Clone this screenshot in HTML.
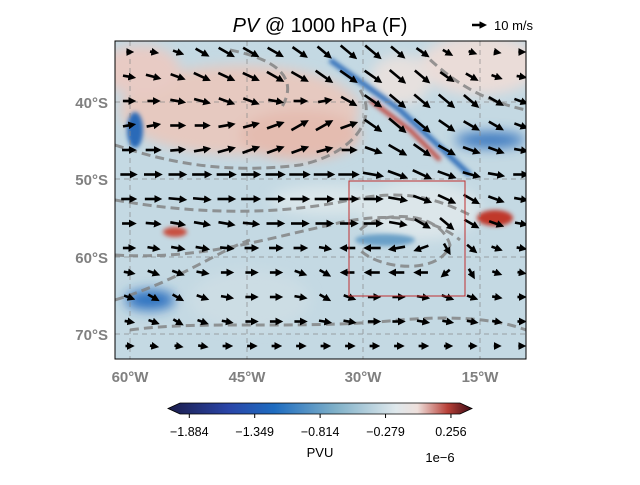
<!DOCTYPE html>
<html><head><meta charset="utf-8"><style>
body{margin:0;background:#fff;font-family:"Liberation Sans",sans-serif;}
</style></head><body>
<svg id="c" width="640" height="480" viewBox="0 0 640 480" xmlns="http://www.w3.org/2000/svg">
<defs>
<clipPath id="mc"><rect x="115" y="41" width="411" height="318"/></clipPath>
<filter id="bl"><feGaussianBlur stdDeviation="6"/></filter>
<filter id="bl2"><feGaussianBlur stdDeviation="2"/></filter>
<linearGradient id="cg" x1="0" x2="1" y1="0" y2="0">
<stop offset="0" stop-color="#1b1c4a"/><stop offset="0.2" stop-color="#2a45a8"/><stop offset="0.35" stop-color="#1e6cc0"/>
<stop offset="0.55" stop-color="#7fb0c8"/><stop offset="0.75" stop-color="#dfe8ec"/><stop offset="0.82" stop-color="#eee0dc"/>
<stop offset="0.92" stop-color="#b84038"/><stop offset="1" stop-color="#3c0a14"/></linearGradient>
<marker id="ah" markerWidth="3" markerHeight="3" refX="1" refY="1.5" orient="auto" markerUnits="strokeWidth"><path d="M0,0 L3,1.5 L0,3 z" fill="#000"/></marker>
</defs>
<text x="320" y="32" text-anchor="middle" font-size="20"><tspan font-style="italic">PV</tspan> @ 1000 hPa (F)</text>
<g><line x1="472" y1="25" x2="482" y2="25" stroke="#000" stroke-width="2.5" marker-end="url(#ah)"/><text x="494" y="30" font-size="13">10 m/s</text></g>
<g clip-path="url(#mc)">
<rect x="115" y="41" width="411" height="318" fill="#c4d9e3"/>
<g filter="url(#bl)">
<ellipse cx="240" cy="110" rx="120" ry="45" fill="#e6c9c0"/>
<ellipse cx="300" cy="135" rx="60" ry="25" fill="#e4bcb0"/>
<ellipse cx="140" cy="70" rx="40" ry="25" fill="#e8cbc4"/>
<ellipse cx="480" cy="65" rx="60" ry="30" fill="#eadcd8"/>
<ellipse cx="400" cy="80" rx="30" ry="25" fill="#e6e0de"/>
<ellipse cx="420" cy="210" rx="60" ry="30" fill="#dce6ea"/>
<ellipse cx="250" cy="300" rx="60" ry="30" fill="#ccdde4"/>
<ellipse cx="330" cy="200" rx="60" ry="15" fill="#dae6ea"/>
<ellipse cx="150" cy="300" rx="25" ry="10" fill="#2a70c0"/>
<ellipse cx="490" cy="140" rx="35" ry="8" fill="#3a78c0"/>
</g>
<g filter="url(#bl2)">
<path d="M330,60 L400,110 L470,175" stroke="#2a6ab8" stroke-width="5" fill="none"/>
<path d="M370,100 L410,130 L440,160" stroke="#c03a30" stroke-width="4" fill="none"/>
<ellipse cx="495" cy="218" rx="18" ry="8" fill="#c0392b"/>
<ellipse cx="175" cy="232" rx="12" ry="5" fill="#c85040"/>
<ellipse cx="135" cy="130" rx="8" ry="18" fill="#2a6ab8"/>
<ellipse cx="385" cy="240" rx="30" ry="6" fill="#6aa0c8"/>
</g>
<g stroke="#888" stroke-width="1" stroke-dasharray="5,4" fill="none" opacity="0.7">
<line x1="130" y1="41" x2="130" y2="359"/><line x1="247" y1="41" x2="247" y2="359"/><line x1="363" y1="41" x2="363" y2="359"/><line x1="480" y1="41" x2="480" y2="359"/>
<line x1="115" y1="102" x2="526" y2="102"/><line x1="115" y1="179" x2="526" y2="179"/><line x1="115" y1="257" x2="526" y2="257"/><line x1="115" y1="334" x2="526" y2="334"/>
</g>
<g stroke="#808080" stroke-width="3" stroke-dasharray="9,5" fill="none" opacity="0.8">
<path d="M115,145 C160,160 220,175 300,165 C350,155 380,120 360,90"/>
<path d="M115,200 C200,215 280,215 350,200 C400,190 430,195 470,215"/>
<path d="M115,255 C200,260 260,240 330,225 C380,212 430,215 460,240"/>
<path d="M360,230 C380,210 440,210 450,245 C440,275 380,270 360,250"/>
<path d="M115,300 C180,280 220,250 250,240"/>
<path d="M130,330 C200,320 300,330 400,320 C460,315 500,320 526,330"/>
<path d="M230,50 C280,60 300,80 280,110"/>
<path d="M420,50 C450,80 480,100 526,110"/>
</g>
<g id="arrows"></g>
</g>
<rect x="349" y="181" width="116" height="115" fill="none" stroke="#c03030" stroke-width="1"/>
<rect x="115" y="41" width="411" height="318" fill="none" stroke="#000" stroke-width="1"/>
<g font-size="15" font-weight="bold" fill="#808080">
<text x="108" y="108" text-anchor="end">40°S</text><text x="108" y="185" text-anchor="end">50°S</text>
<text x="108" y="263" text-anchor="end">60°S</text><text x="108" y="340" text-anchor="end">70°S</text></g>
<g font-size="15" font-weight="bold" fill="#808080" text-anchor="middle">
<text x="130" y="382">60°W</text><text x="247" y="382">45°W</text><text x="363" y="382">30°W</text><text x="480" y="382">15°W</text></g>
<g>
<polygon points="168,408.5 180,403 460,403 472,408.5 460,414 180,414" fill="url(#cg)" stroke="#000" stroke-width="0.8"/>
<g font-size="12.5" text-anchor="middle" id="cbt"></g>
<text x="320" y="457" text-anchor="middle" font-size="13">PVU</text>
<text x="440" y="462" text-anchor="middle" font-size="13">1e−6</text>
</g>
</svg>
<script>
const cbTicks=[-1.884,-1.349,-0.814,-0.279,0.256];
const cbMin=-1.96, cbMax=0.33;
const angles=[
[0,10,20,30,30,30,30,35,40,40,40,40,35,30,20,10,0],
[10,15,20,25,25,25,30,30,35,35,35,40,40,35,30,20,10],
[0,0,10,15,20,20,10,0,-10,30,35,40,40,40,40,30,20],
[-10,-10,0,0,-10,-15,-20,-30,-30,-20,35,40,40,35,30,30,20],
[0,0,-5,-10,-15,-20,-20,-20,-15,0,20,30,35,30,20,20,10],
[0,0,0,0,0,0,0,0,0,0,10,20,25,20,15,10,0],
[0,0,5,5,0,0,0,0,0,0,0,10,20,25,30,20,10],
[0,5,10,10,10,5,0,0,0,0,0,10,30,40,30,20,10],
[0,10,10,10,5,0,0,0,10,180,180,170,160,60,40,20,10],
[10,20,20,10,0,0,0,20,30,180,180,180,180,140,60,20,10],
[20,30,30,20,10,0,0,10,30,20,0,0,10,20,20,10,0],
[10,20,30,20,10,0,0,0,10,10,0,0,10,10,10,10,0],
[0,10,10,10,0,0,0,0,0,0,0,0,0,0,0,0,0]];
const speeds=[
[2,3,5,8,10,10,10,10,10,12,12,10,8,5,3,2,2],
[6,8,8,10,10,10,11,11,12,12,12,12,11,9,7,5,4],
[6,6,8,9,9,9,8,7,7,10,12,12,12,12,11,9,7],
[6,7,8,8,9,9,10,11,11,10,12,13,12,11,10,9,7],
[7,8,8,9,10,10,10,10,9,8,10,12,12,11,10,9,7],
[9,10,10,11,11,11,11,12,12,12,12,12,12,11,10,9,8],
[8,9,10,10,10,11,11,11,11,11,11,11,11,11,10,9,7],
[7,8,8,9,9,9,10,10,10,10,11,10,10,10,9,8,6],
[6,6,7,7,7,7,7,7,6,8,9,9,8,6,6,5,4],
[5,6,6,6,6,6,6,6,6,7,8,8,7,5,5,4,3],
[5,6,6,6,6,6,6,6,6,6,6,6,6,6,5,4,3],
[4,5,5,5,5,6,6,6,6,6,6,6,6,5,5,4,3],
[3,3,3,4,4,4,4,4,4,4,4,4,4,3,3,2,2]];
const NS="http://www.w3.org/2000/svg";
const xs=i=>128+i*24.5, ys=j=>52+j*24.5, len=s=>s*1.7;
const g=document.getElementById('arrows');
angles.forEach((row,j)=>row.forEach((a,i)=>{
 const L=len(speeds[j][i]),r=a*Math.PI/180,cx=xs(i),cy=ys(j);
 const dx=Math.cos(r)*L/2,dy=Math.sin(r)*L/2;
 const l=document.createElementNS(NS,'line');
 l.setAttribute('x1',cx-dx);l.setAttribute('y1',cy-dy);l.setAttribute('x2',cx+dx*0.6);l.setAttribute('y2',cy+dy*0.6);
 l.setAttribute('stroke','#000');l.setAttribute('stroke-width','2.6');l.setAttribute('marker-end','url(#ah)');
 
 
 g.appendChild(l);
}));
const cx=v=>180+(v-cbMin)/(cbMax-cbMin)*280;
const tg=document.getElementById('cbt');
cbTicks.forEach(v=>{
 const t=document.createElementNS(NS,'line');
 t.setAttribute('x1',cx(v));t.setAttribute('x2',cx(v));t.setAttribute('y1',414);t.setAttribute('y2',418);t.setAttribute('stroke','#000');
 
 
 tg.appendChild(t);
 const s=document.createElementNS(NS,'text');
 s.setAttribute('x',cx(v));s.setAttribute('y',436);s.textContent=v<0?'−'+(-v).toFixed(3):v.toFixed(3);
 
 
 tg.appendChild(s);
});
</script>
</body></html>
